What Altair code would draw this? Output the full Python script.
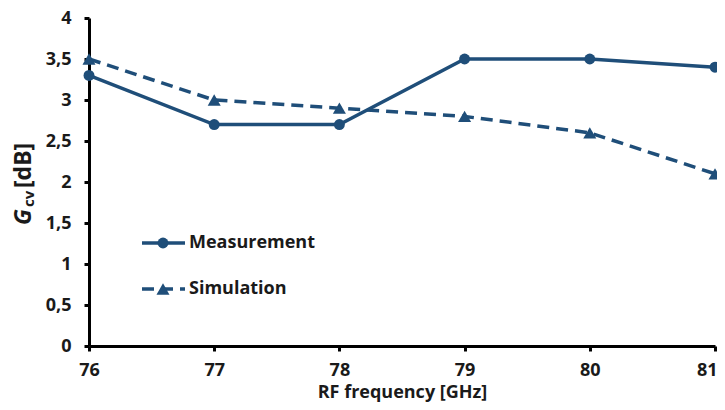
import altair as alt
import pandas as pd

freq = [76, 77, 78, 79, 80, 81]
measurement = [3.3, 2.7, 2.7, 3.5, 3.5, 3.4]
simulation = [3.5, 3.0, 2.9, 2.8, 2.6, 2.1]
series_names = ["Measurement", "Simulation"]
y_ticks = [0, 0.5, 1, 1.5, 2, 2.5, 3, 3.5, 4]
x_ticks = [76, 77, 78, 79, 80, 81]

COLOR = "#1f4e79"
TEXT = "#1a1a1a"
FONT = "Open Sans"
W, H = 626, 328

df = pd.DataFrame({
    "freq": freq * 2,
    "value": measurement + simulation,
    "series": [series_names[0]] * len(freq) + [series_names[1]] * len(freq),
})

x = alt.X("freq:Q", scale=alt.Scale(domain=[76, 81], nice=False, zero=False),
          axis=alt.Axis(values=x_ticks, format="d", title="RF frequency [GHz]",
                        labelPadding=10, titlePadding=4,
                        labelAlign={"condition": {"test": f"datum.value == {x_ticks[-1]}", "value": "right"},
                                    "value": "center"},
                        labelOffset={"condition": {"test": f"datum.value == {x_ticks[-1]}", "value": 2},
                                     "value": 0}))
y = alt.Y("value:Q", scale=alt.Scale(domain=[0, 4], nice=False),
          axis=alt.Axis(values=y_ticks, title=None, labelPadding=13,
                        labelExpr="replace(toString(datum.value), '.', ',')"))

base = alt.Chart(df)
meas = base.transform_filter(alt.datum.series == series_names[0])
sim = base.transform_filter(alt.datum.series == series_names[1])

meas_line = meas.mark_line(color=COLOR, strokeWidth=3.5).encode(x=x, y=y)
meas_pts = meas.mark_point(shape="circle", filled=True, opacity=1, color=COLOR, size=120).encode(x=x, y=y)
sim_line = sim.mark_line(color=COLOR, strokeWidth=3.5, strokeDash=[12, 7]).encode(x=x, y=y)
sim_pts = sim.mark_point(shape="triangle-up", filled=True, opacity=1, color=COLOR, size=170).encode(x=x, y=y)

# manual legend
leg_df = pd.DataFrame({"label": series_names})
leg_m = alt.Chart(leg_df).transform_filter(alt.datum.label == series_names[0])
leg_s = alt.Chart(leg_df).transform_filter(alt.datum.label == series_names[1])
ly1, ly2 = 225, 271
lm_rule = leg_m.mark_rule(color=COLOR, strokeWidth=3.5).encode(x=alt.value(53), x2=alt.value(96), y=alt.value(ly1))
lm_pt = leg_m.mark_point(shape="circle", filled=True, opacity=1, color=COLOR, size=120).encode(x=alt.value(74), y=alt.value(ly1))
lm_txt = leg_m.mark_text(align="left", baseline="middle", font=FONT, fontWeight="bold", fontSize=18, color=TEXT).encode(
    x=alt.value(100), y=alt.value(ly1), text="label:N")
ls_rule = leg_s.mark_rule(color=COLOR, strokeWidth=3.5, strokeDash=[12, 7]).encode(x=alt.value(53), x2=alt.value(96), y=alt.value(ly2))
ls_pt = leg_s.mark_point(shape="triangle-up", filled=True, opacity=1, color=COLOR, size=170).encode(x=alt.value(74), y=alt.value(ly2))
ls_txt = leg_s.mark_text(align="left", baseline="middle", font=FONT, fontWeight="bold", fontSize=18, color=TEXT).encode(
    x=alt.value(100), y=alt.value(ly2), text="label:N")

# y-axis title: G (italic) with subscript cv, then [dB]
t_df = pd.DataFrame({"g": ["G"], "cv": ["cv"], "db": ["[dB]"]})
tg = alt.Chart(t_df).mark_text(angle=270, align="left", baseline="alphabetic", font=FONT, fontWeight="bold",
                               fontStyle="italic", fontSize=23, color=TEXT).encode(
    x=alt.value(-58), y=alt.value(207), text="g:N")
tcv = alt.Chart(t_df).mark_text(angle=270, align="left", baseline="alphabetic", font=FONT, fontWeight="bold",
                                fontSize=15, color=TEXT).encode(
    x=alt.value(-55), y=alt.value(189), text="cv:N")
tdb = alt.Chart(t_df).mark_text(angle=270, align="left", baseline="alphabetic", font=FONT, fontWeight="bold",
                                fontSize=23, color=TEXT).encode(
    x=alt.value(-58), y=alt.value(170), text="db:N")

chart = alt.layer(
    sim_line, meas_line, sim_pts, meas_pts,
    lm_rule, lm_pt, lm_txt, ls_rule, ls_pt, ls_txt,
    tg, tcv, tdb,
).properties(
    width=W, height=H,
    autosize=alt.AutoSizeParams(type="none"),
    padding={"left": 81, "top": 10, "right": 2, "bottom": 56},
    background="white",
).configure_view(stroke=None).configure_axis(
    grid=False, domainColor="black", domainWidth=3, tickColor="black", tickWidth=3, tickSize=5,
    labelFont=FONT, labelFontWeight="bold", labelFontSize=18, labelColor=TEXT,
    titleFont=FONT, titleFontWeight="bold", titleFontSize=18, titleColor=TEXT,
)

chart.save("out.html", embed_options={"renderer": "svg", "actions": False})
